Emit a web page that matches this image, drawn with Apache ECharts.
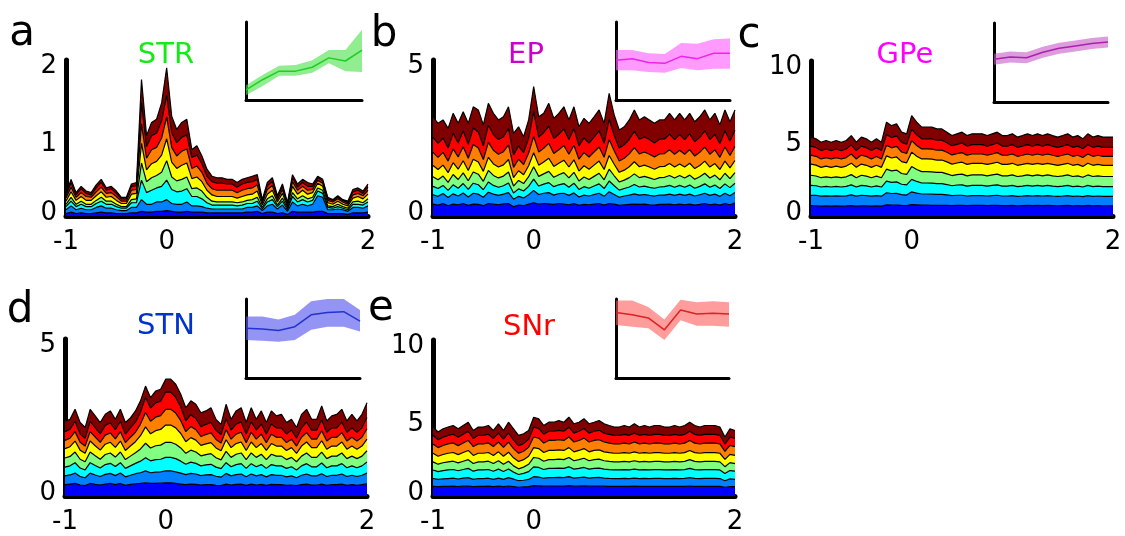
<!DOCTYPE html>
<html>
<head>
<meta charset="utf-8">
<script src="https://cdn.jsdelivr.net/npm/echarts@6/dist/echarts.min.js"></script>
<style>
  html, body { margin: 0; padding: 0; background: #fff; }
  #main { width: 1125px; height: 536px; }
</style>
</head>
<body>
<div id="main"></div>
<script>
// time bins (s), shared by all panels
const times = [
  -1, -0.95, -0.9, -0.85, -0.8, -0.75, -0.7, -0.65, -0.6, -0.55,
  -0.5, -0.45, -0.4, -0.35, -0.3, -0.25, -0.2, -0.15, -0.1, -0.05,
  0, 0.05, 0.1, 0.15, 0.2, 0.25, 0.3, 0.35, 0.4, 0.45,
  0.5, 0.55, 0.6, 0.65, 0.7, 0.75, 0.8, 0.85, 0.9, 0.95,
  1, 1.05, 1.1, 1.15, 1.2, 1.25, 1.3, 1.35, 1.4, 1.45,
  1.5, 1.55, 1.6, 1.65, 1.7, 1.75, 1.8, 1.85, 1.9, 1.95,
  2
];
const xTickLabels = [-1, 0, 2];

// ---- STR layers (1 = bottom / blue ... 8 = top / dark red)
const str1 = [0.03,0.05,0.03,0.04,0.03,0.03,0.04,0.05,0.04,0.04, 0.03,0.03,0.03,0.04,0.04,0.06,0.05,0.05,0.06,0.06, 0.07,0.06,0.05,0.05,0.06,0.05,0.05,0.05,0.04,0.04, 0.04,0.04,0.04,0.04,0.04,0.04,0.05,0.05,0.06,0.03, 0.05,0.05,0.03,0.04,0.02,0.06,0.05,0.05,0.05,0.05, 0.06,0.06,0.03,0.03,0.03,0.03,0.02,0.04,0.04,0.04, 0.05];
const str2 = [0.05,0.08,0.05,0.06,0.05,0.05,0.07,0.08,0.06,0.06, 0.05,0.04,0.04,0.07,0.07,0.15,0.10,0.10,0.12,0.12, 0.14,0.10,0.10,0.10,0.12,0.08,0.08,0.07,0.06,0.05, 0.05,0.05,0.05,0.05,0.05,0.05,0.06,0.06,0.07,0.04, 0.08,0.10,0.06,0.10,0.04,0.12,0.08,0.10,0.08,0.10, 0.20,0.18,0.05,0.05,0.06,0.05,0.04,0.07,0.07,0.06, 0.08];
const str3 = [0.04,0.06,0.04,0.05,0.04,0.04,0.05,0.06,0.05,0.05, 0.04,0.03,0.03,0.06,0.06,0.25,0.15,0.18,0.18,0.20, 0.25,0.18,0.16,0.17,0.17,0.12,0.12,0.10,0.07,0.05, 0.05,0.05,0.05,0.05,0.04,0.05,0.05,0.05,0.06,0.02, 0.05,0.06,0.03,0.05,0.02,0.07,0.05,0.06,0.05,0.05, 0.06,0.05,0.03,0.02,0.03,0.02,0.02,0.04,0.04,0.04, 0.05];
const str4 = [0.03,0.05,0.03,0.04,0.03,0.03,0.04,0.05,0.04,0.04, 0.03,0.02,0.02,0.04,0.05,0.22,0.14,0.16,0.16,0.18, 0.25,0.16,0.14,0.15,0.15,0.10,0.11,0.10,0.07,0.05, 0.04,0.04,0.04,0.04,0.04,0.04,0.04,0.05,0.05,0.02, 0.04,0.05,0.02,0.04,0.02,0.05,0.04,0.05,0.04,0.04, 0.04,0.04,0.02,0.02,0.03,0.02,0.02,0.03,0.04,0.03, 0.04];
const str5 = [0.04,0.07,0.05,0.06,0.05,0.05,0.06,0.07,0.05,0.06, 0.05,0.04,0.04,0.07,0.07,0.25,0.15,0.18,0.18,0.22, 0.28,0.19,0.16,0.18,0.18,0.13,0.14,0.12,0.09,0.08, 0.07,0.07,0.07,0.07,0.06,0.07,0.07,0.07,0.08,0.03, 0.06,0.07,0.04,0.06,0.02,0.08,0.06,0.07,0.06,0.06, 0.06,0.05,0.04,0.03,0.04,0.03,0.03,0.05,0.06,0.05, 0.06];
const str6 = [0.04,0.06,0.04,0.05,0.05,0.04,0.05,0.06,0.05,0.05, 0.05,0.03,0.03,0.05,0.05,0.25,0.15,0.18,0.18,0.22, 0.28,0.19,0.16,0.18,0.18,0.13,0.14,0.12,0.09,0.08, 0.08,0.08,0.08,0.08,0.07,0.08,0.08,0.08,0.08,0.03, 0.06,0.06,0.03,0.05,0.02,0.06,0.05,0.05,0.05,0.04, 0.04,0.04,0.03,0.03,0.03,0.03,0.02,0.04,0.04,0.04, 0.05];
const str7 = [0.03,0.06,0.03,0.05,0.04,0.03,0.05,0.06,0.04,0.05, 0.04,0.03,0.03,0.05,0.05,0.27,0.15,0.18,0.18,0.22, 0.28,0.19,0.17,0.18,0.18,0.14,0.14,0.11,0.09,0.09, 0.09,0.09,0.08,0.08,0.07,0.08,0.08,0.08,0.07,0.02, 0.05,0.05,0.03,0.04,0.02,0.05,0.04,0.05,0.05,0.04, 0.03,0.03,0.02,0.02,0.02,0.02,0.02,0.04,0.04,0.03, 0.04];
const str8 = [0.02,0.04,0.03,0.03,0.03,0.03,0.04,0.04,0.03,0.03, 0.03,0.02,0.02,0.03,0.04,0.30,0.14,0.17,0.18,0.23, 0.35,0.21,0.17,0.19,0.20,0.10,0.12,0.10,0.09,0.07, 0.07,0.07,0.06,0.06,0.06,0.06,0.06,0.07,0.06,0.02, 0.04,0.05,0.02,0.03,0.01,0.04,0.04,0.04,0.05,0.03, 0.02,0.02,0.02,0.01,0.02,0.01,0.02,0.03,0.03,0.03, 0.04];

// ---- EP layers
const ep1 = [0.38,0.35,0.40,0.33,0.38,0.36,0.40,0.34,0.38,0.37, 0.33,0.40,0.38,0.36,0.39,0.40,0.30,0.35,0.33,0.38, 0.42,0.38,0.40,0.39,0.37,0.40,0.38,0.36,0.40,0.34, 0.37,0.36,0.38,0.40,0.35,0.40,0.38,0.34,0.36,0.37, 0.38,0.37,0.38,0.36,0.35,0.37,0.37,0.38,0.36,0.38, 0.36,0.38,0.35,0.37,0.40,0.36,0.38,0.35,0.40,0.36, 0.42];
const ep2 = [0.30,0.28,0.32,0.26,0.33,0.28,0.34,0.27,0.35,0.33, 0.27,0.36,0.32,0.30,0.31,0.35,0.24,0.28,0.25,0.30, 0.40,0.31,0.33,0.36,0.30,0.32,0.35,0.30,0.34,0.27, 0.30,0.28,0.31,0.33,0.28,0.38,0.31,0.26,0.28,0.30, 0.33,0.30,0.31,0.30,0.29,0.30,0.30,0.32,0.30,0.32, 0.30,0.32,0.29,0.31,0.33,0.30,0.32,0.28,0.33,0.29, 0.33];
const ep3 = [0.27,0.25,0.26,0.23,0.29,0.25,0.30,0.24,0.32,0.30, 0.24,0.33,0.28,0.26,0.27,0.31,0.20,0.24,0.22,0.27, 0.36,0.27,0.29,0.32,0.27,0.28,0.31,0.26,0.31,0.24, 0.27,0.25,0.27,0.30,0.25,0.34,0.28,0.23,0.24,0.26, 0.30,0.26,0.27,0.26,0.25,0.26,0.27,0.28,0.26,0.28, 0.26,0.29,0.25,0.27,0.30,0.26,0.29,0.25,0.30,0.26, 0.30];
const ep4 = [0.31,0.28,0.30,0.26,0.33,0.28,0.34,0.28,0.36,0.34, 0.27,0.37,0.32,0.30,0.31,0.35,0.22,0.27,0.24,0.31, 0.40,0.31,0.33,0.36,0.30,0.32,0.35,0.30,0.35,0.27, 0.31,0.28,0.31,0.34,0.28,0.38,0.32,0.26,0.27,0.30, 0.34,0.30,0.31,0.30,0.28,0.30,0.30,0.32,0.30,0.32, 0.30,0.32,0.29,0.31,0.34,0.30,0.32,0.28,0.34,0.29, 0.34];
const ep5 = [0.36,0.33,0.35,0.31,0.38,0.33,0.39,0.33,0.41,0.39, 0.32,0.42,0.37,0.35,0.36,0.40,0.27,0.31,0.28,0.35, 0.45,0.36,0.38,0.42,0.35,0.37,0.40,0.35,0.40,0.32, 0.36,0.33,0.36,0.39,0.33,0.44,0.37,0.31,0.32,0.35, 0.39,0.35,0.36,0.35,0.33,0.35,0.35,0.38,0.35,0.37, 0.35,0.38,0.34,0.36,0.39,0.35,0.37,0.33,0.39,0.34, 0.39];
const ep6 = [0.42,0.39,0.41,0.37,0.44,0.39,0.45,0.39,0.47,0.45, 0.38,0.48,0.44,0.41,0.42,0.47,0.33,0.37,0.33,0.41, 0.52,0.42,0.44,0.48,0.41,0.43,0.47,0.41,0.47,0.38, 0.42,0.39,0.42,0.45,0.39,0.51,0.43,0.36,0.38,0.41, 0.45,0.41,0.42,0.41,0.39,0.41,0.41,0.44,0.41,0.44, 0.41,0.44,0.40,0.42,0.45,0.41,0.44,0.39,0.45,0.40, 0.45];
const ep7 = [0.48,0.45,0.46,0.42,0.50,0.45,0.51,0.45,0.53,0.51, 0.44,0.55,0.50,0.47,0.48,0.53,0.40,0.43,0.38,0.47, 0.80,0.48,0.50,0.55,0.48,0.50,0.53,0.47,0.53,0.43, 0.47,0.45,0.48,0.52,0.45,0.65,0.49,0.42,0.43,0.47, 0.52,0.47,0.48,0.47,0.45,0.47,0.47,0.50,0.47,0.50, 0.47,0.50,0.46,0.48,0.52,0.47,0.50,0.44,0.52,0.46, 0.52];
const ep8 = [0.66,0.64,0.58,0.63,0.64,0.63,0.61,0.67,0.68,0.71, 0.67,0.70,0.68,0.63,0.64,0.69,0.69,0.61,0.51,0.59, 0.80,0.65,0.62,0.73,0.65,0.67,0.71,0.63,0.70,0.61, 0.63,0.63,0.65,0.67,0.64,0.83,0.66,0.58,0.58,0.62, 0.69,0.62,0.65,0.63,0.63,0.62,0.61,0.67,0.63,0.68, 0.63,0.66,0.64,0.66,0.67,0.63,0.67,0.60,0.67,0.62, 0.65];

// ---- GPe layers
const gpe1 = [0.66,0.66,0.64,0.65,0.64,0.65,0.64,0.65,0.67,0.64, 0.66,0.65,0.64,0.65,0.64,0.72,0.70,0.70,0.68,0.67, 0.74,0.72,0.70,0.70,0.69,0.69,0.69,0.68,0.67,0.68, 0.68,0.67,0.68,0.68,0.68,0.67,0.68,0.68,0.67,0.67, 0.68,0.66,0.67,0.68,0.67,0.68,0.67,0.68,0.67,0.66, 0.67,0.68,0.66,0.67,0.65,0.68,0.66,0.67,0.66,0.66, 0.66];
const gpe2 = [0.68,0.67,0.64,0.65,0.64,0.65,0.64,0.65,0.69,0.64, 0.68,0.67,0.64,0.67,0.64,0.78,0.75,0.76,0.70,0.68, 0.82,0.76,0.72,0.72,0.72,0.70,0.70,0.68,0.64,0.66, 0.66,0.62,0.64,0.64,0.64,0.62,0.64,0.66,0.62,0.62, 0.64,0.61,0.62,0.64,0.62,0.64,0.62,0.64,0.62,0.61, 0.62,0.64,0.61,0.62,0.60,0.64,0.61,0.62,0.61,0.61, 0.61];
const gpe3 = [0.64,0.62,0.59,0.61,0.59,0.61,0.59,0.61,0.65,0.59, 0.64,0.62,0.59,0.62,0.59,0.75,0.72,0.74,0.67,0.66, 0.80,0.75,0.71,0.71,0.71,0.70,0.70,0.67,0.64,0.66, 0.67,0.64,0.66,0.66,0.66,0.64,0.66,0.67,0.64,0.64, 0.66,0.63,0.64,0.66,0.64,0.66,0.64,0.66,0.64,0.63, 0.64,0.66,0.63,0.64,0.62,0.66,0.63,0.64,0.63,0.63, 0.63];
const gpe4 = [0.65,0.63,0.60,0.62,0.60,0.62,0.60,0.62,0.66,0.60, 0.65,0.63,0.60,0.63,0.60,0.77,0.74,0.76,0.69,0.67, 0.83,0.77,0.73,0.73,0.73,0.72,0.72,0.69,0.66,0.67, 0.69,0.66,0.67,0.67,0.67,0.66,0.67,0.69,0.66,0.66, 0.67,0.65,0.66,0.67,0.66,0.67,0.66,0.67,0.66,0.65, 0.66,0.67,0.65,0.66,0.63,0.67,0.65,0.66,0.65,0.65, 0.65];
const gpe5 = [0.72,0.70,0.67,0.69,0.67,0.69,0.67,0.69,0.74,0.67, 0.72,0.70,0.67,0.70,0.67,0.86,0.83,0.85,0.77,0.75, 0.93,0.86,0.82,0.82,0.82,0.80,0.80,0.77,0.74,0.75, 0.77,0.74,0.75,0.75,0.75,0.74,0.75,0.77,0.74,0.74, 0.75,0.72,0.74,0.75,0.74,0.75,0.74,0.75,0.74,0.72, 0.74,0.75,0.72,0.74,0.70,0.75,0.72,0.74,0.72,0.72, 0.72];
const gpe6 = [0.58,0.57,0.54,0.55,0.54,0.55,0.54,0.55,0.59,0.54, 0.58,0.57,0.54,0.57,0.54,0.69,0.66,0.68,0.62,0.60, 0.74,0.69,0.65,0.65,0.65,0.64,0.64,0.62,0.59,0.60, 0.62,0.59,0.60,0.60,0.60,0.59,0.60,0.62,0.59,0.59, 0.60,0.58,0.59,0.60,0.59,0.60,0.59,0.60,0.59,0.58, 0.59,0.60,0.58,0.59,0.57,0.60,0.58,0.59,0.58,0.58, 0.58];
const gpe7 = [0.58,0.57,0.54,0.55,0.54,0.55,0.54,0.55,0.59,0.54, 0.58,0.57,0.54,0.57,0.54,0.69,0.66,0.68,0.62,0.60, 0.74,0.69,0.65,0.65,0.65,0.64,0.64,0.62,0.59,0.60, 0.62,0.59,0.60,0.60,0.60,0.59,0.60,0.62,0.59,0.59, 0.60,0.58,0.59,0.60,0.59,0.60,0.59,0.60,0.59,0.58, 0.59,0.60,0.58,0.59,0.57,0.60,0.58,0.59,0.58,0.58, 0.58];
const gpe8 = [0.58,0.56,0.54,0.55,0.54,0.55,0.54,0.55,0.60,0.54, 0.58,0.57,0.54,0.57,0.54,0.79,0.77,0.77,0.66,0.67, 0.87,0.81,0.75,0.75,0.76,0.73,0.73,0.68,0.66,0.68, 0.70,0.68,0.70,0.70,0.70,0.68,0.70,0.70,0.68,0.68, 0.70,0.66,0.68,0.70,0.68,0.70,0.68,0.70,0.68,0.66, 0.68,0.70,0.66,0.68,0.64,0.70,0.66,0.68,0.66,0.66, 0.66];

// ---- STN layers
const stn1 = [0.36,0.38,0.40,0.35,0.33,0.40,0.37,0.35,0.38,0.40, 0.36,0.40,0.34,0.37,0.39,0.40,0.42,0.40,0.40,0.41, 0.42,0.42,0.40,0.38,0.36,0.38,0.37,0.35,0.36,0.36, 0.34,0.33,0.38,0.35,0.37,0.38,0.34,0.38,0.35,0.37, 0.34,0.37,0.36,0.36,0.34,0.35,0.33,0.36,0.38,0.35, 0.35,0.38,0.34,0.36,0.36,0.38,0.34,0.36,0.34,0.36, 0.39];
const stn2 = [0.28,0.29,0.33,0.27,0.25,0.33,0.30,0.27,0.31,0.32, 0.29,0.33,0.27,0.29,0.32,0.34,0.38,0.34,0.36,0.36, 0.38,0.38,0.37,0.35,0.32,0.34,0.33,0.30,0.31,0.32, 0.29,0.27,0.34,0.29,0.31,0.32,0.27,0.32,0.29,0.31, 0.27,0.31,0.30,0.30,0.27,0.29,0.25,0.30,0.32,0.29, 0.29,0.33,0.28,0.30,0.30,0.32,0.28,0.30,0.28,0.30, 0.34];
const stn3 = [0.28,0.29,0.33,0.27,0.25,0.33,0.30,0.27,0.31,0.32, 0.29,0.33,0.27,0.30,0.33,0.37,0.42,0.38,0.40,0.40, 0.43,0.43,0.42,0.38,0.33,0.36,0.34,0.31,0.32,0.33, 0.29,0.27,0.34,0.29,0.32,0.33,0.27,0.33,0.29,0.32, 0.27,0.32,0.30,0.30,0.27,0.29,0.25,0.30,0.33,0.29, 0.29,0.34,0.28,0.30,0.30,0.33,0.28,0.30,0.28,0.30, 0.35];
const stn4 = [0.29,0.30,0.34,0.28,0.26,0.34,0.31,0.28,0.32,0.33, 0.30,0.34,0.28,0.31,0.34,0.39,0.46,0.41,0.44,0.45, 0.48,0.48,0.46,0.42,0.35,0.38,0.36,0.32,0.33,0.34, 0.30,0.28,0.36,0.30,0.33,0.34,0.28,0.34,0.30,0.33, 0.28,0.33,0.31,0.31,0.28,0.30,0.26,0.31,0.34,0.30, 0.30,0.35,0.29,0.31,0.31,0.34,0.29,0.31,0.29,0.31, 0.36];
const stn5 = [0.30,0.31,0.35,0.29,0.27,0.35,0.32,0.29,0.33,0.34, 0.31,0.35,0.29,0.32,0.35,0.42,0.52,0.45,0.48,0.50, 0.55,0.55,0.52,0.46,0.37,0.40,0.38,0.33,0.34,0.35, 0.31,0.29,0.37,0.31,0.34,0.35,0.29,0.35,0.31,0.34, 0.29,0.34,0.32,0.32,0.29,0.31,0.27,0.32,0.35,0.31, 0.31,0.36,0.30,0.32,0.32,0.35,0.30,0.32,0.30,0.32, 0.37];
const stn6 = [0.26,0.27,0.30,0.25,0.23,0.30,0.28,0.25,0.29,0.30, 0.27,0.30,0.25,0.28,0.30,0.37,0.46,0.40,0.43,0.44, 0.50,0.50,0.47,0.41,0.32,0.35,0.33,0.29,0.30,0.31, 0.27,0.25,0.32,0.27,0.30,0.31,0.25,0.31,0.27,0.30, 0.25,0.30,0.28,0.28,0.25,0.27,0.23,0.28,0.30,0.27, 0.27,0.32,0.26,0.28,0.28,0.30,0.26,0.28,0.26,0.28, 0.33];
const stn7 = [0.28,0.29,0.33,0.27,0.25,0.33,0.30,0.27,0.31,0.32, 0.29,0.33,0.27,0.30,0.32,0.38,0.48,0.42,0.45,0.46, 0.55,0.55,0.50,0.44,0.34,0.38,0.36,0.31,0.32,0.33, 0.29,0.27,0.35,0.29,0.32,0.33,0.27,0.33,0.29,0.32, 0.27,0.32,0.30,0.30,0.27,0.29,0.25,0.30,0.33,0.29, 0.29,0.34,0.28,0.30,0.30,0.33,0.28,0.30,0.28,0.30, 0.36];
const stn8 = [0.34,0.31,0.38,0.36,0.34,0.38,0.37,0.36,0.35,0.38, 0.33,0.38,0.37,0.32,0.36,0.36,0.36,0.33,0.38,0.38, 0.41,0.41,0.42,0.40,0.42,0.44,0.45,0.44,0.43,0.47, 0.35,0.32,0.46,0.34,0.42,0.45,0.37,0.45,0.34,0.42, 0.37,0.42,0.38,0.43,0.37,0.34,0.34,0.43,0.41,0.34, 0.34,0.45,0.36,0.38,0.43,0.41,0.36,0.43,0.36,0.43, 0.47];

// ---- SNr layers
const snr1 = [0.62,0.60,0.62,0.62,0.63,0.61,0.63,0.64,0.60,0.62, 0.62,0.63,0.60,0.63,0.60,0.64,0.60,0.56,0.58,0.60, 0.66,0.65,0.63,0.64,0.64,0.64,0.64,0.66,0.63,0.64, 0.65,0.63,0.64,0.64,0.63,0.62,0.62,0.62,0.62,0.62, 0.63,0.62,0.62,0.62,0.62,0.62,0.62,0.62,0.62,0.62, 0.62,0.64,0.62,0.62,0.62,0.62,0.62,0.62,0.56,0.61, 0.60];
const snr2 = [0.50,0.46,0.48,0.50,0.51,0.48,0.51,0.54,0.47,0.50, 0.50,0.51,0.47,0.52,0.47,0.54,0.48,0.42,0.43,0.46, 0.58,0.56,0.51,0.54,0.54,0.55,0.54,0.58,0.52,0.54, 0.56,0.52,0.54,0.55,0.52,0.51,0.50,0.50,0.51,0.50, 0.52,0.50,0.51,0.50,0.51,0.51,0.50,0.50,0.51,0.50, 0.51,0.54,0.51,0.50,0.51,0.51,0.51,0.50,0.42,0.49, 0.47];
const snr3 = [0.55,0.50,0.53,0.55,0.56,0.53,0.56,0.59,0.52,0.55, 0.55,0.56,0.52,0.57,0.50,0.55,0.45,0.40,0.44,0.50, 0.63,0.62,0.56,0.59,0.59,0.60,0.59,0.63,0.57,0.59, 0.62,0.57,0.59,0.60,0.57,0.56,0.55,0.55,0.56,0.55, 0.57,0.55,0.56,0.55,0.56,0.56,0.55,0.55,0.56,0.55, 0.56,0.59,0.56,0.55,0.56,0.56,0.56,0.55,0.46,0.53, 0.52];
const snr4 = [0.52,0.48,0.50,0.52,0.53,0.50,0.53,0.56,0.49,0.52, 0.52,0.53,0.49,0.54,0.46,0.50,0.40,0.36,0.40,0.47, 0.60,0.59,0.53,0.56,0.56,0.57,0.56,0.60,0.54,0.56, 0.59,0.54,0.56,0.57,0.54,0.53,0.52,0.52,0.53,0.52, 0.54,0.52,0.53,0.52,0.53,0.53,0.52,0.52,0.53,0.52, 0.53,0.56,0.53,0.52,0.53,0.53,0.53,0.52,0.44,0.51, 0.49];
const snr5 = [0.55,0.51,0.53,0.55,0.56,0.53,0.56,0.59,0.52,0.55, 0.55,0.56,0.52,0.57,0.52,0.58,0.52,0.47,0.48,0.52, 0.63,0.62,0.56,0.59,0.59,0.60,0.59,0.63,0.57,0.59, 0.62,0.57,0.59,0.60,0.57,0.56,0.55,0.55,0.56,0.55, 0.57,0.55,0.56,0.55,0.56,0.56,0.55,0.55,0.56,0.55, 0.56,0.59,0.56,0.55,0.56,0.56,0.56,0.55,0.47,0.53, 0.52];
const snr6 = [0.60,0.55,0.58,0.60,0.61,0.58,0.61,0.64,0.57,0.60, 0.60,0.61,0.57,0.63,0.57,0.64,0.59,0.53,0.54,0.57, 0.68,0.67,0.61,0.64,0.64,0.65,0.64,0.68,0.63,0.64, 0.67,0.63,0.64,0.65,0.63,0.61,0.60,0.60,0.61,0.60, 0.63,0.60,0.61,0.60,0.61,0.61,0.60,0.60,0.61,0.60, 0.61,0.64,0.61,0.60,0.61,0.61,0.61,0.60,0.51,0.58, 0.57];
const snr7 = [0.55,0.51,0.53,0.55,0.56,0.53,0.56,0.59,0.52,0.55, 0.55,0.56,0.52,0.57,0.52,0.59,0.54,0.48,0.49,0.52, 0.63,0.62,0.56,0.59,0.59,0.60,0.59,0.63,0.57,0.59, 0.62,0.57,0.59,0.60,0.57,0.56,0.55,0.55,0.56,0.55, 0.57,0.55,0.56,0.55,0.56,0.56,0.55,0.55,0.56,0.55, 0.56,0.59,0.56,0.55,0.56,0.56,0.56,0.55,0.47,0.53, 0.52];
const snr8 = [0.53,0.49,0.54,0.53,0.56,0.55,0.56,0.58,0.51,0.53, 0.53,0.56,0.51,0.60,0.56,0.69,0.73,0.67,0.63,0.56, 0.64,0.62,0.56,0.58,0.58,0.63,0.58,0.64,0.60,0.58, 0.62,0.60,0.58,0.63,0.60,0.57,0.53,0.53,0.57,0.53, 0.60,0.53,0.57,0.53,0.57,0.57,0.53,0.53,0.57,0.53, 0.57,0.58,0.57,0.53,0.57,0.57,0.57,0.53,0.45,0.53, 0.51];

// ---- insets: mean and band (normalised units, 8 points each)
const insetX = ['1', '2', '3', '4', '5', '6', '7', '8'];
const strMean = [0.13, 0.26, 0.37, 0.37, 0.42, 0.54, 0.50, 0.64];
const strLo   = [0.06, 0.18, 0.31, 0.31, 0.35, 0.47, 0.37, 0.36];
const strHi   = [0.19, 0.32, 0.44, 0.45, 0.51, 0.64, 0.64, 0.90];
const epMean  = [0.51, 0.53, 0.48, 0.47, 0.56, 0.53, 0.60, 0.60];
const epLo    = [0.38, 0.38, 0.36, 0.35, 0.41, 0.38, 0.40, 0.40];
const epHi    = [0.64, 0.64, 0.60, 0.59, 0.73, 0.72, 0.78, 0.79];
const gpeMean = [0.54, 0.57, 0.56, 0.63, 0.68, 0.71, 0.74, 0.76];
const gpeLo   = [0.47, 0.50, 0.49, 0.56, 0.61, 0.64, 0.67, 0.69];
const gpeHi   = [0.61, 0.64, 0.63, 0.70, 0.75, 0.78, 0.81, 0.83];
const stnMean = [0.63, 0.62, 0.60, 0.65, 0.80, 0.83, 0.84, 0.72];
const stnLo   = [0.48, 0.47, 0.46, 0.48, 0.61, 0.65, 0.65, 0.59];
const stnHi   = [0.78, 0.78, 0.74, 0.80, 0.97, 1.00, 1.00, 0.86];
const snrMean = [0.83, 0.80, 0.76, 0.61, 0.86, 0.81, 0.82, 0.81];
const snrLo   = [0.67, 0.65, 0.63, 0.48, 0.73, 0.66, 0.66, 0.65];
const snrHi   = [0.98, 0.98, 0.90, 0.74, 0.99, 0.96, 0.97, 0.96];

const FONT = '"DejaVu Sans", Verdana, sans-serif';
const layerColors = ['#0000ff', '#0080ff', '#00ffff', '#80ff80', '#ffff00', '#ff8000', '#ff0000', '#800000'];
const tickFont = { color: '#000', fontSize: 26, fontFamily: FONT };

const panels = [
  { letter: 'a', name: 'STR', nameColor: '#16ea16', layers: [str1, str2, str3, str4, str5, str6, str7, str8], ymax: 2, yint: 1,
    grid: { left: 66, top: 60, width: 302, height: 156 }, inset: { left: 246, top: 22, width: 116, height: 78 },
    mean: strMean, lo: strLo, hi: strHi, lineColor: '#22cc22', band: 'rgba(70,225,70,0.6)',
    letterAt: [22, 34], nameAt: [166, 55] },
  { letter: 'b', name: 'EP', nameColor: '#cc00cc', layers: [ep1, ep2, ep3, ep4, ep5, ep6, ep7, ep8], ymax: 5, yint: 5,
    grid: { left: 433, top: 60, width: 302, height: 156 }, inset: { left: 616, top: 22, width: 114, height: 78 },
    mean: epMean, lo: epLo, hi: epHi, lineColor: '#ee22ee', band: 'rgba(255,100,255,0.65)',
    letterAt: [384, 35], nameAt: [526, 55] },
  { letter: 'c', name: 'GPe', nameColor: '#ff00ff', layers: [gpe1, gpe2, gpe3, gpe4, gpe5, gpe6, gpe7, gpe8], ymax: 10, yint: 5,
    grid: { left: 811, top: 61, width: 302, height: 155 }, inset: { left: 994, top: 23, width: 114, height: 79 },
    mean: gpeMean, lo: gpeLo, hi: gpeHi, lineColor: '#aa22aa', band: 'rgba(200,90,200,0.6)',
    letterAt: [749, 36], nameAt: [905, 55] },
  { letter: 'd', name: 'STN', nameColor: '#0033cc', layers: [stn1, stn2, stn3, stn4, stn5, stn6, stn7, stn8], ymax: 5, yint: 5,
    grid: { left: 65, top: 339, width: 302, height: 157 }, inset: { left: 246, top: 299, width: 114, height: 79 },
    mean: stnMean, lo: stnLo, hi: stnHi, lineColor: '#2233cc', band: 'rgba(90,90,240,0.65)',
    letterAt: [20, 311], nameAt: [166, 326] },
  { letter: 'e', name: 'SNr', nameColor: '#ff0000', layers: [snr1, snr2, snr3, snr4, snr5, snr6, snr7, snr8], ymax: 10, yint: 5,
    grid: { left: 433, top: 340, width: 302, height: 156 }, inset: { left: 616, top: 299, width: 113, height: 79 },
    mean: snrMean, lo: snrLo, hi: snrHi, lineColor: '#dd2222', band: 'rgba(255,90,90,0.6)',
    letterAt: [381, 309], nameAt: [529, 327] }
];

const grid = [], xAxis = [], yAxis = [], series = [], graphic = [];

panels.forEach((p, k) => {
  // main stacked-area plot (category axis so stacking is by bin index)
  const gi = grid.length;
  grid.push(p.grid);
  xAxis.push({
    type: 'category', gridIndex: gi, data: times, boundaryGap: false,
    axisLine: { onZero: false, lineStyle: { color: '#000', width: 5 } },
    axisTick: { show: false }, splitLine: { show: false },
    axisLabel: Object.assign({
      margin: 13,
      interval: (idx, val) => xTickLabels.indexOf(Number(val)) >= 0
    }, tickFont)
  });
  yAxis.push({
    type: 'value', gridIndex: gi, min: 0, max: p.ymax, interval: p.yint,
    axisLine: { show: true, onZero: false, lineStyle: { color: '#000', width: 5 } },
    axisTick: { show: false }, splitLine: { show: false },
    axisLabel: Object.assign({
      margin: 9,
      // zero sits a little high, the others a little low, as in the source figure
      formatter: v => (v === 0 ? '{z|0}' : '{n|' + v + '}'),
      rich: {
        z: Object.assign({ padding: [0, 0, 6, 0] }, tickFont),
        n: Object.assign({ padding: [12, 0, 0, 0] }, tickFont)
      }
    }, tickFont)
  });
  p.layers.forEach((arr, j) => {
    series.push({
      type: 'line', xAxisIndex: gi, yAxisIndex: gi, stack: 'psth' + k,
      data: arr, symbol: 'none', z: 20 - j,
      lineStyle: { color: '#000', width: 1.2 },
      areaStyle: { color: layerColors[j], opacity: 1 }
    });
  });

  // inset: mean +- band
  const ii = grid.length;
  grid.push(p.inset);
  xAxis.push({
    type: 'category', gridIndex: ii, data: insetX, boundaryGap: false,
    axisLine: { onZero: false, lineStyle: { color: '#000', width: 3 } },
    axisTick: { show: false }, axisLabel: { show: false }, splitLine: { show: false }
  });
  yAxis.push({
    type: 'value', gridIndex: ii, min: 0, max: 1,
    axisLine: { show: true, onZero: false, lineStyle: { color: '#000', width: 3 } },
    axisTick: { show: false }, axisLabel: { show: false }, splitLine: { show: false }
  });
  series.push({
    type: 'line', xAxisIndex: ii, yAxisIndex: ii, stack: 'band' + k,
    data: p.lo, symbol: 'none', lineStyle: { opacity: 0 }
  });
  series.push({
    type: 'line', xAxisIndex: ii, yAxisIndex: ii, stack: 'band' + k,
    data: p.hi.map((h, i) => h - p.lo[i]), symbol: 'none', lineStyle: { opacity: 0 },
    areaStyle: { color: p.band, opacity: 1 }
  });
  series.push({
    type: 'line', xAxisIndex: ii, yAxisIndex: ii,
    data: p.mean, symbol: 'none', lineStyle: { color: p.lineColor, width: 1.5 }
  });

  graphic.push({
    type: 'text', x: p.letterAt[0], y: p.letterAt[1],
    style: { text: p.letter, fill: '#000', font: '42px ' + FONT, align: 'center', verticalAlign: 'middle' }
  });
  graphic.push({
    type: 'text', x: p.nameAt[0], y: p.nameAt[1],
    style: { text: p.name, fill: p.nameColor, font: '29px ' + FONT, align: 'center', verticalAlign: 'middle' }
  });
});

const chart = echarts.init(document.getElementById('main'), null, { renderer: 'canvas' });
chart.setOption({
  backgroundColor: '#fff',
  animation: false,
  grid: grid,
  xAxis: xAxis,
  yAxis: yAxis,
  series: series,
  graphic: graphic
});
</script>
</body>
</html>
